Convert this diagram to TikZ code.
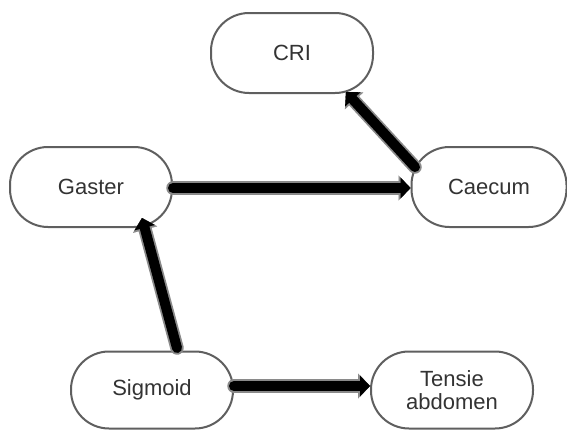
\documentclass[tikz,border=0pt]{standalone}
\usepackage{fontspec}
\setmainfont{Liberation Sans}
\usetikzlibrary{arrows.meta}
\definecolor{boxline}{HTML}{5F5F5F}
\definecolor{boxtext}{HTML}{333333}
\definecolor{arrowrim}{HTML}{8A8A8A}
\begin{document}
\begin{tikzpicture}[x=1pt,y=-1pt,
  stage/.style={draw=boxline, line width=2pt, fill=white, rounded corners=38pt,
    minimum width=162pt, minimum height=80pt, align=center, text=boxtext,
    font=\fontsize{22}{23.5}\selectfont},
  flow/.style={line width=10pt, draw=black, line cap=round,
    -{Triangle[length=10pt,width=21pt,line width=0.1pt]},
    preaction={draw=arrowrim, line width=13.5pt, line cap=round,
      -{Triangle[length=12pt,width=25pt,line width=0.1pt]}}}]
\useasboundingbox (0,0) rectangle (567,431);

% stages
\node[stage] (cri) at (292,53) {CRI};
\node[stage] (gaster) at (91,187) {Gaster};
\node[stage, minimum width=155pt] (caecum) at (489,187) {Caecum};
\node[stage, minimum height=77pt] (sigmoid) at (152,390) {Sigmoid};
\node[stage, minimum height=77pt] (tensie) at (452,390) {Tensie\\abdomen};

% connections
\draw[flow] ([shift={(-74,-20)}]caecum.center) -- ([shift={(54,39)}]cri.center);
\draw[flow] ([yshift=-1pt]gaster.east) -- ([yshift=-1pt]caecum.west);
\draw[flow] ([shift={(25,-42)}]sigmoid.center) -- ([shift={(51,31)}]gaster.center);
\draw[flow] ([yshift=4pt]sigmoid.east) -- ([yshift=4pt]tensie.west);
\end{tikzpicture}
\end{document}
